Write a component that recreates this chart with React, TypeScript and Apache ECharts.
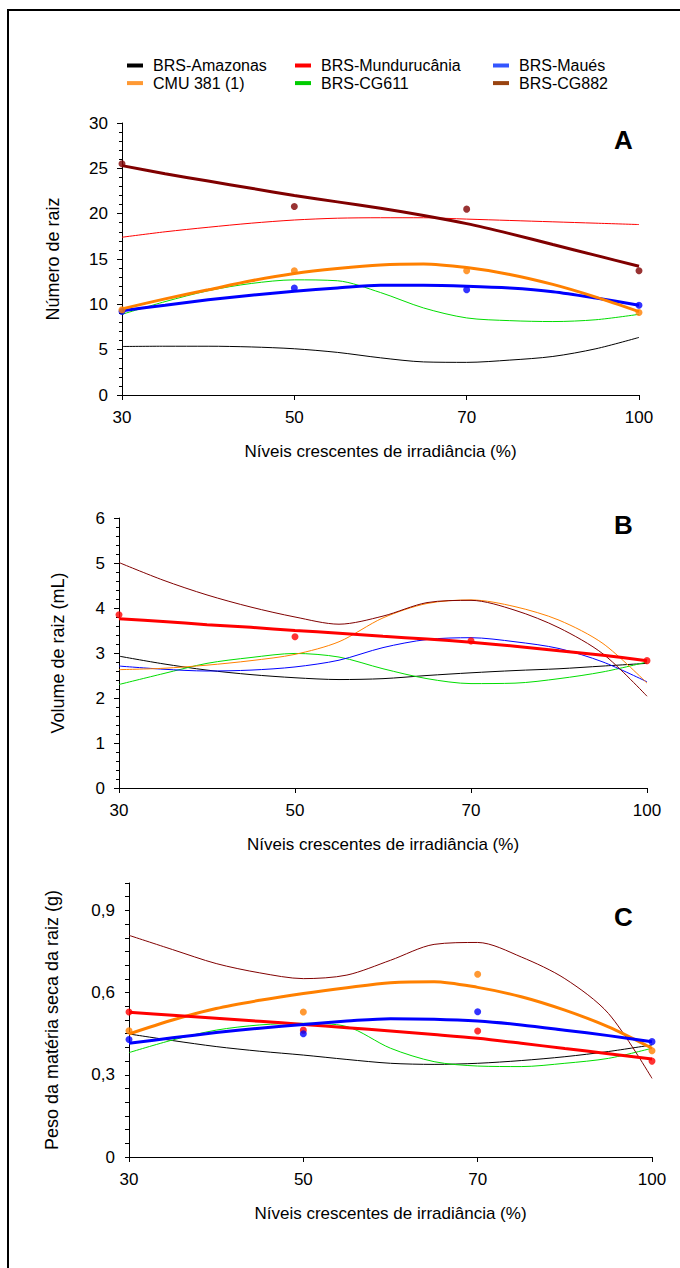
import React, { useEffect, useRef } from "react";
import * as echarts from "echarts";

// ---------- data ----------
const X_TICK_LABELS = ["30", "50", "70", "100"];
// sample positions along the (equally spaced) irradiance axis, in tick units
const X_SAMPLES = [0, 0.25, 0.5, 0.75, 1, 1.25, 1.5, 1.75, 2, 2.25, 2.5, 2.75, 3];
const X_POINTS = [0, 1, 2, 3];

const NAMES = ["BRS-Amazonas", "BRS-Mundurucânia", "BRS-Maués", "CMU 381 (1)", "BRS-CG611", "BRS-CG882"];

// Panel A – Número de raiz (fitted curves)
const A_AMAZONAS = [5.35, 5.38, 5.38, 5.3, 5.1, 4.7, 4.1, 3.65, 3.6, 3.85, 4.25, 5.1, 6.35];
const A_MUNDURUCANIA = [17.4, 18.0, 18.5, 18.95, 19.3, 19.5, 19.55, 19.55, 19.4, 19.25, 19.1, 18.95, 18.8];
const A_MAUES = [9.3, 9.9, 10.5, 11.0, 11.45, 11.8, 12.1, 12.1, 12.0, 11.8, 11.4, 10.7, 9.9];
const A_CMU = [9.5, 10.6, 11.6, 12.6, 13.4, 13.95, 14.35, 14.45, 14.05, 13.3, 12.2, 10.8, 9.2];
const A_CG611 = [8.9, 10.3, 11.5, 12.3, 12.7, 12.6, 11.3, 9.6, 8.5, 8.2, 8.1, 8.3, 8.9];
const A_CG882 = [25.3, 24.4, 23.6, 22.8, 22.0, 21.3, 20.6, 19.8, 18.9, 17.8, 16.6, 15.4, 14.2];
// Panel A – observed means
const A_DOT_MAUES = [9.2, 11.8, 11.6, 9.9];
const A_DOT_CMU = [9.4, 13.7, 13.7, 9.1];
const A_DOT_CG882 = [25.5, 20.8, 20.5, 13.7];

// Panel B – Volume de raiz (mL)
const B_AMAZONAS = [2.93, 2.76, 2.62, 2.52, 2.45, 2.41, 2.43, 2.5, 2.56, 2.61, 2.65, 2.71, 2.77];
const B_MUNDURUCANIA = [3.76, 3.7, 3.63, 3.57, 3.5, 3.44, 3.37, 3.31, 3.24, 3.15, 3.05, 2.95, 2.83];
const B_MAUES = [2.71, 2.64, 2.6, 2.62, 2.69, 2.84, 3.12, 3.3, 3.34, 3.25, 3.1, 2.8, 2.36];
const B_CMU = [2.63, 2.66, 2.73, 2.83, 2.97, 3.25, 3.78, 4.1, 4.18, 4.03, 3.73, 3.21, 2.33];
const B_CG611 = [2.3, 2.54, 2.77, 2.9, 2.99, 2.91, 2.65, 2.43, 2.32, 2.33, 2.43, 2.58, 2.8];
const B_CG882 = [5.01, 4.62, 4.29, 4.02, 3.8, 3.64, 3.82, 4.12, 4.17, 3.95, 3.56, 2.98, 2.04];
const B_DOT_MUNDURUCANIA = [3.85, 3.36, 3.27, 2.83];

// Panel C – Peso da matéria seca da raiz (g)
const C_AMAZONAS = [0.449, 0.425, 0.403, 0.386, 0.372, 0.356, 0.342, 0.338, 0.342, 0.352, 0.366, 0.385, 0.409];
const C_MUNDURUCANIA = [0.528, 0.517, 0.506, 0.495, 0.484, 0.472, 0.46, 0.447, 0.433, 0.415, 0.396, 0.377, 0.358];
const C_MAUES = [0.415, 0.435, 0.454, 0.47, 0.484, 0.496, 0.505, 0.503, 0.496, 0.482, 0.463, 0.443, 0.421];
const C_CMU = [0.449, 0.5, 0.542, 0.572, 0.597, 0.618, 0.636, 0.64, 0.619, 0.585, 0.536, 0.475, 0.397];
const C_CG611 = [0.381, 0.427, 0.463, 0.482, 0.488, 0.476, 0.397, 0.348, 0.332, 0.33, 0.342, 0.36, 0.397];
const C_CG882 = [0.809, 0.757, 0.706, 0.672, 0.651, 0.664, 0.718, 0.776, 0.783, 0.73, 0.651, 0.524, 0.287];
const C_DOT_MUNDURUCANIA = [0.529, 0.463, 0.46, 0.35];
const C_DOT_MAUES = [0.429, 0.45, 0.53, 0.421];
const C_DOT_CMU = [0.461, 0.529, 0.667, 0.388];

// ---------- styles ----------
const FONT = "Liberation Sans, Arial, Helvetica, sans-serif";
const COL = {
  black: "#000000",
  red: "#ff0000",
  blue: "#0000ff",
  orange: "#ff8000",
  green: "#00dd00",
  brown: "#800000",
};
const LEGEND_COL: Record<string, string> = {
  "BRS-Amazonas": "#000000",
  "BRS-Mundurucânia": "#ff0000",
  "BRS-Maués": "#3355ff",
  "CMU 381 (1)": "#ff9933",
  "BRS-CG611": "#00cc00",
  "BRS-CG882": "#994411",
};

function curve(p: number, name: string, vals: number[], color: string, width: number) {
  return {
    type: "line",
    name,
    xAxisIndex: p,
    yAxisIndex: p,
    data: X_SAMPLES.map((x, i) => [x, vals[i]]),
    smooth: 0.3,
    symbol: "none",
    showSymbol: false,
    silent: true,
    lineStyle: { color, width },
    itemStyle: { color },
    z: width > 2 ? 3 : 2,
  };
}
function dots(p: number, name: string, vals: number[], color: string) {
  return {
    type: "scatter",
    name,
    xAxisIndex: p,
    yAxisIndex: p,
    data: X_POINTS.map((x, i) => [x, vals[i]]),
    symbol: "circle",
    symbolSize: 7,
    silent: true,
    itemStyle: { color },
    z: 4,
  };
}

const GRIDS = [
  { left: 122, top: 123, width: 517, height: 272 },
  { left: 119, top: 518, width: 528, height: 270 },
  { left: 129, top: 883, width: 523, height: 274 },
];

function xAxis(i: number) {
  return {
    type: "value",
    gridIndex: i,
    min: 0,
    max: 3,
    interval: 1,
    name: "Níveis crescentes de irradiância (%)",
    nameLocation: "middle",
    nameGap: 48,
    nameTextStyle: { fontFamily: FONT, fontSize: 17, color: "#000" },
    axisLine: { show: true, onZero: false, lineStyle: { color: "#000", width: 1 } },
    axisTick: { show: true, length: 5, lineStyle: { color: "#000" } },
    axisLabel: {
      show: true,
      showMinLabel: true,
      showMaxLabel: true,
      margin: 14,
      fontFamily: FONT,
      fontSize: 17,
      color: "#000",
      formatter: (v: number) => X_TICK_LABELS[Math.round(v)] ?? "",
    },
    splitLine: { show: false },
  };
}

function yAxis(i: number, name: string, max: number, interval: number, minor: boolean, gap: number, fmt: (v: number) => string) {
  return {
    type: "value",
    gridIndex: i,
    min: 0,
    max,
    interval,
    name,
    nameLocation: "middle",
    nameRotate: 90,
    nameGap: gap,
    nameTextStyle: { fontFamily: FONT, fontSize: 18, color: "#000" },
    axisLine: { show: true, onZero: false, lineStyle: { color: "#000", width: 1 } },
    axisTick: { show: true, length: minor ? 5 : 4, lineStyle: { color: "#000" } },
    minorTick: { show: minor, splitNumber: 5, length: 3, lineStyle: { color: "#000" } },
    axisLabel: {
      show: true,
      showMinLabel: true,
      showMaxLabel: true,
      margin: 14,
      fontFamily: FONT,
      fontSize: 17,
      color: "#000",
      formatter: fmt,
    },
    splitLine: { show: false },
    minorSplitLine: { show: false },
  };
}

function legendItem(name: string) {
  const c = LEGEND_COL[name];
  return { name, icon: "rect", itemStyle: { color: c, borderWidth: 0 }, lineStyle: { color: c, width: 4 } };
}
function legendCol(left: number, names: string[]) {
  return {
    orient: "vertical",
    left,
    top: 57.5,
    padding: 0,
    itemGap: 1.6,
    itemWidth: 16,
    itemHeight: 4,
    selectedMode: false,
    textStyle: { fontFamily: FONT, fontSize: 16, color: "#000", lineHeight: 16, padding: [0, 0, 0, 5] },
    data: names.map(legendItem),
  };
}

export default function App() {
  const ref = useRef<HTMLDivElement>(null);
  useEffect(() => {
    if (!ref.current) return;
    const chart = echarts.init(ref.current, null, { renderer: "svg" });
    const [N_AMZ, N_MUN, N_MAU, N_CMU, N_611, N_882] = NAMES;
    const option: any = {
      animation: false,
      backgroundColor: "#ffffff",
      textStyle: { fontFamily: FONT },
      legend: [
        legendCol(127, [N_AMZ, N_CMU]),
        legendCol(295, [N_MUN, N_611]),
        legendCol(493, [N_MAU, N_882]),
      ],
      grid: GRIDS.map((g) => ({ ...g, containLabel: false, outerBoundsMode: "none" })),
      xAxis: [xAxis(0), xAxis(1), xAxis(2)],
      yAxis: [
        yAxis(0, "Número de raiz", 30, 5, true, 60, (v) => String(Math.round(v))),
        yAxis(1, "Volume de raiz (mL)", 6, 1, true, 52, (v) => String(Math.round(v))),
        yAxis(2, "Peso da matéria seca da raiz (g)", 1, 0.05, false, 68, (v) => {
          const k = Math.round(v * 100);
          if (k % 30 !== 0 || k > 95) return "";
          return k === 0 ? "0" : (k / 100).toFixed(1).replace(".", ",");
        }),
      ],
      series: [
        // Panel A
        curve(0, N_AMZ, A_AMAZONAS, COL.black, 1),
        curve(0, N_MUN, A_MUNDURUCANIA, COL.red, 1),
        curve(0, N_611, A_CG611, COL.green, 1),
        curve(0, N_MAU, A_MAUES, COL.blue, 3),
        curve(0, N_CMU, A_CMU, COL.orange, 3),
        curve(0, N_882, A_CG882, COL.brown, 3),
        dots(0, N_MAU, A_DOT_MAUES, COL.blue),
        dots(0, N_CMU, A_DOT_CMU, COL.orange),
        dots(0, N_882, A_DOT_CG882, COL.brown),
        // Panel B
        curve(1, N_AMZ, B_AMAZONAS, COL.black, 1),
        curve(1, N_611, B_CG611, COL.green, 1),
        curve(1, N_MAU, B_MAUES, COL.blue, 1),
        curve(1, N_CMU, B_CMU, COL.orange, 1),
        curve(1, N_882, B_CG882, COL.brown, 1),
        curve(1, N_MUN, B_MUNDURUCANIA, COL.red, 3),
        dots(1, N_MUN, B_DOT_MUNDURUCANIA, COL.red),
        // Panel C
        curve(2, N_AMZ, C_AMAZONAS, COL.black, 1),
        curve(2, N_611, C_CG611, COL.green, 1),
        curve(2, N_882, C_CG882, COL.brown, 1),
        curve(2, N_CMU, C_CMU, COL.orange, 3),
        curve(2, N_MUN, C_MUNDURUCANIA, COL.red, 3),
        curve(2, N_MAU, C_MAUES, COL.blue, 3),
        dots(2, N_CMU, C_DOT_CMU, COL.orange),
        dots(2, N_MUN, C_DOT_MUNDURUCANIA, COL.red),
        dots(2, N_MAU, C_DOT_MAUES, COL.blue),
      ],
      graphic: [
        { type: "line", shape: { x1: 7, y1: 10, x2: 680, y2: 10 }, style: { stroke: "#000", lineWidth: 2 } },
        { type: "line", shape: { x1: 8, y1: 9, x2: 8, y2: 1268 }, style: { stroke: "#000", lineWidth: 2 } },
        { type: "text", x: 614, y: 140, style: { text: "A", fontFamily: FONT, fontSize: 26, fontWeight: "bold", fill: "#000", verticalAlign: "middle" } },
        { type: "text", x: 614, y: 525, style: { text: "B", fontFamily: FONT, fontSize: 26, fontWeight: "bold", fill: "#000", verticalAlign: "middle" } },
        { type: "text", x: 614, y: 917, style: { text: "C", fontFamily: FONT, fontSize: 26, fontWeight: "bold", fill: "#000", verticalAlign: "middle" } },
      ],
    };
    chart.setOption(option);
    return () => chart.dispose();
  }, []);
  return <div ref={ref} style={{ position: "absolute", left: 0, top: 0, width: 680, height: 1268, background: "#fff" }} />;
}
